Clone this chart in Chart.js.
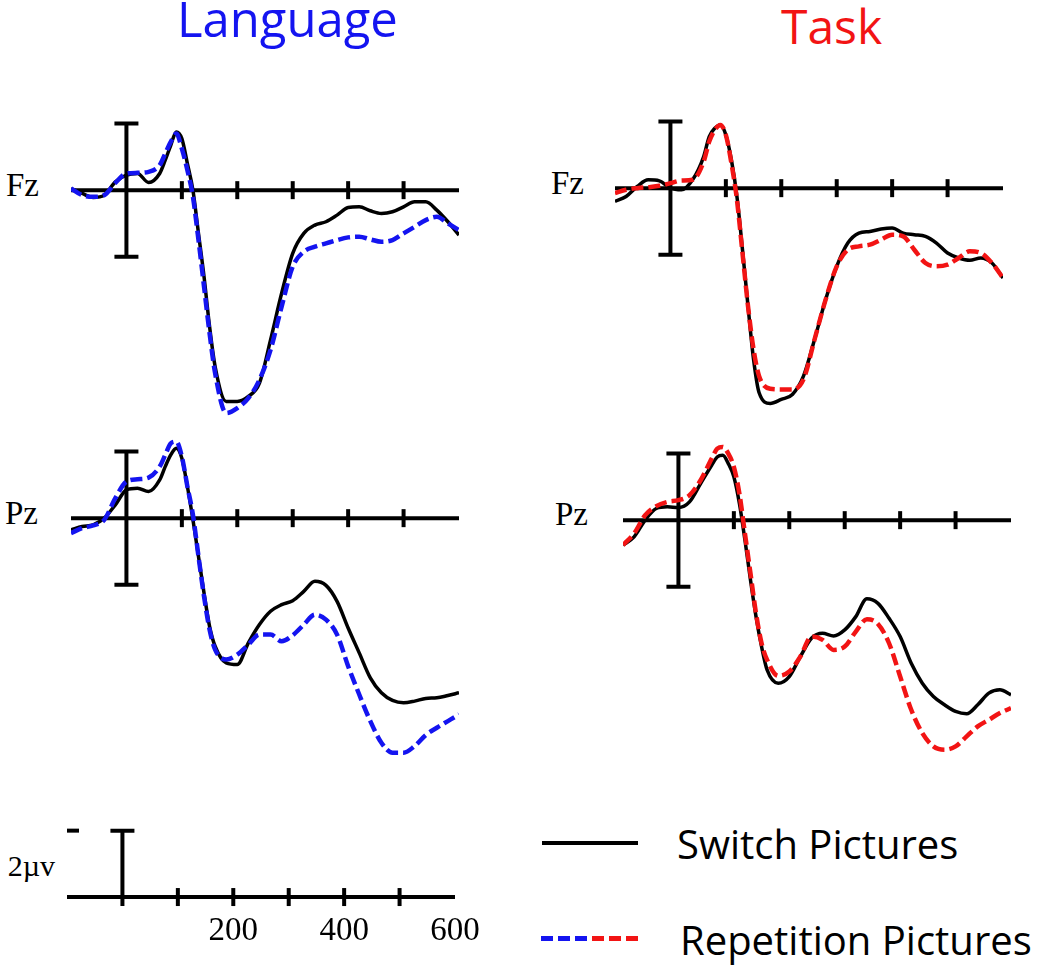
<!DOCTYPE html>
<html>
<head>
<meta charset="utf-8">
<title>Language / Task ERP</title>
<script src="https://cdn.jsdelivr.net/npm/chart.js@4.4.1/dist/chart.umd.min.js"></script>
<style>
  body { margin: 0; background: #fff; }
  #page { position: relative; width: 1050px; height: 967px; overflow: hidden; background: #fff; }
  canvas { position: absolute; }
  .txt { position: absolute; white-space: nowrap; line-height: 1; }
  .leg { position: absolute; }
</style>
</head>
<body>
<div id="page"></div>
<script>
// sample times in ms (denser around the early peak / steep drop)
const timesMs = [-100, -80, -60, -40, -20, 0, 20, 40, 60, 70, 80, 90, 100, 110, 120, 130, 140, 150, 160,
  180, 200, 220, 240, 260, 280, 300, 320, 340, 360, 380, 400, 420, 440, 460, 480, 500, 520, 540, 560, 580, 600];
const tickTimes = [100, 200, 300, 400, 500];
const scaleLabels = [200, 400, 600];

// amplitudes in microvolts
const fzLanguageSwitch = [0.05, -0.1, -0.22, -0.15, 0.25, 0.45, 0.5, 0.23, 0.5, 0.9, 1.35, 1.75, 1.55, 0.8, 0.0, -1.3, -2.6, -4.1, -5.3,
  -6.35, -6.35, -6.2, -5.8, -4.5, -3.1, -1.9, -1.3, -1.05, -0.95, -0.75, -0.52, -0.5, -0.62, -0.7, -0.65, -0.5, -0.35, -0.35, -0.6, -0.95, -1.35];
const fzLanguageRepeat = [0.05, -0.15, -0.2, -0.15, 0.22, 0.5, 0.52, 0.55, 0.75, 1.1, 1.45, 1.7, 1.25, 0.6, -0.2, -1.5, -2.9, -4.3, -5.5,
  -6.7, -6.55, -6.25, -5.7, -4.8, -3.5, -2.3, -1.85, -1.7, -1.6, -1.5, -1.42, -1.4, -1.48, -1.55, -1.5, -1.3, -1.1, -0.9, -0.8, -1.0, -1.2];

const fzTaskSwitch = [-0.4, -0.25, 0.05, 0.25, 0.22, 0.0, -0.05, 0.25, 0.95, 1.55, 1.8, 1.9, 1.6, 0.85, -0.25, -1.85, -3.55, -5.15, -6.15,
  -6.47, -6.35, -6.2, -5.65, -4.55, -3.35, -2.35, -1.65, -1.35, -1.3, -1.23, -1.2, -1.35, -1.4, -1.45, -1.65, -1.95, -2.1, -2.17, -2.1, -2.25, -2.7];
const fzTaskRepeat = [-0.15, -0.05, 0.0, 0.03, 0.07, 0.15, 0.23, 0.25, 0.8, 1.4, 1.75, 1.9, 1.6, 0.75, -0.35, -1.95, -3.55, -4.85, -5.65,
  -6.03, -6.05, -6.05, -5.75, -4.55, -3.35, -2.35, -1.85, -1.75, -1.7, -1.55, -1.4, -1.45, -1.85, -2.25, -2.35, -2.3, -2.1, -1.9, -1.95, -2.25, -2.7];

const pzLanguageSwitch = [-0.35, -0.25, -0.2, 0.0, 0.4, 0.85, 0.9, 0.8, 1.15, 1.55, 1.9, 2.1, 1.8, 0.95, -0.05, -1.15, -2.25, -3.25, -3.85,
  -4.35, -4.4, -3.75, -3.2, -2.8, -2.6, -2.48, -2.2, -1.9, -2.02, -2.5, -3.3, -4.05, -4.8, -5.25, -5.48, -5.55, -5.5, -5.42, -5.4, -5.33, -5.25];
const pzLanguageRepeat = [-0.45, -0.3, -0.22, -0.05, 0.6, 1.1, 1.17, 1.22, 1.55, 1.9, 2.25, 2.3, 1.85, 0.95, 0.1, -1.15, -2.35, -3.35, -3.95,
  -4.25, -4.1, -3.8, -3.5, -3.5, -3.7, -3.52, -3.2, -2.9, -3.05, -3.5, -4.45, -5.3, -6.1, -6.75, -7.05, -7.05, -6.85, -6.52, -6.3, -6.1, -5.9];

const pzTaskSwitch = [-0.75, -0.5, 0.0, 0.35, 0.4, 0.38, 0.55, 1.1, 1.65, 1.9, 1.95, 1.7, 1.3, 0.5, -0.6, -1.8, -2.9, -3.8, -4.5,
  -4.9, -4.7, -4.1, -3.55, -3.4, -3.48, -3.3, -2.9, -2.36, -2.5, -2.95, -3.5, -4.3, -4.9, -5.3, -5.55, -5.75, -5.82, -5.55, -5.2, -5.1, -5.25];
const pzTaskRepeat = [-0.75, -0.4, 0.15, 0.42, 0.55, 0.6, 0.75, 1.2, 1.85, 2.15, 2.2, 2.0, 1.6, 0.8, -0.4, -1.6, -2.8, -3.7, -4.2,
  -4.68, -4.55, -4.1, -3.5, -3.6, -3.9, -3.8, -3.35, -2.98, -3.12, -3.7, -4.7, -5.7, -6.4, -6.8, -6.9, -6.8, -6.5, -6.2, -6.0, -5.8, -5.65];

const BLUE = '#1414f0';
const RED = '#f21414';
const PX_PER_MS = 0.5545;
const PX_PER_UV = 33.3;

const page = document.getElementById('page');

function pts(values) {
  return timesMs.map((t, i) => ({ x: t, y: values[i] }));
}

// axis line, crossing ticks, calibration bar
const erpAxes = {
  id: 'erpAxes',
  beforeDatasetsDraw(chart, args, opts) {
    const { ctx, scales: { x, y } } = chart;
    const y0 = y.getPixelForValue(0);
    const half = 9;
    ctx.save();
    ctx.strokeStyle = '#000';
    ctx.fillStyle = '#000';
    ctx.lineWidth = 4;
    ctx.lineCap = 'butt';

    ctx.beginPath();
    ctx.moveTo(x.getPixelForValue(-100), y0);
    ctx.lineTo(x.getPixelForValue(600), y0);
    ctx.stroke();

    tickTimes.forEach(t => {
      const px = x.getPixelForValue(t);
      ctx.beginPath();
      ctx.moveTo(px, y0 - half);
      ctx.lineTo(px, y0 + half);
      ctx.stroke();
    });

    const bx = x.getPixelForValue(0);
    const top = y.getPixelForValue(opts.barTop);
    const bottom = opts.barBottom !== null ? y.getPixelForValue(opts.barBottom) : y0 + half;
    ctx.beginPath();
    ctx.moveTo(bx, top);
    ctx.lineTo(bx, bottom);
    ctx.moveTo(bx - 12, top);
    ctx.lineTo(bx + 12, top);
    if (opts.barBottom !== null) {
      ctx.moveTo(bx - 12, bottom);
      ctx.lineTo(bx + 12, bottom);
    }
    ctx.stroke();

    if (opts.calibration) {
      const dx = x.getPixelForValue(-100);
      ctx.beginPath();
      ctx.moveTo(dx, top);
      ctx.lineTo(dx + 12, top);
      ctx.stroke();

      ctx.font = '33px "Liberation Serif", "Times New Roman", serif';
      ctx.textAlign = 'center';
      ctx.textBaseline = 'alphabetic';
      scaleLabels.forEach(v => {
        ctx.fillText(String(v), x.getPixelForValue(v), y0 + 43);
      });
    }
    ctx.restore();
  }
};

function makePanel(zeroX, axisY, yMin, yMax, pad, datasets, axesOpts) {
  const plotW = Math.round(700 * PX_PER_MS);
  const plotH = Math.round((yMax - yMin) * PX_PER_UV);
  const canvas = document.createElement('canvas');
  canvas.width = plotW + pad.left + pad.right;
  canvas.height = plotH + pad.top + pad.bottom;
  canvas.style.left = (zeroX - 100 * PX_PER_MS - pad.left) + 'px';
  canvas.style.top = (axisY - yMax * PX_PER_UV - pad.top) + 'px';
  page.appendChild(canvas);

  return new Chart(canvas.getContext('2d'), {
    type: 'line',
    data: { datasets: datasets },
    options: {
      responsive: false,
      animation: false,
      events: [],
      layout: { padding: pad },
      scales: {
        x: { type: 'linear', min: -100, max: 600, display: false },
        y: { type: 'linear', min: yMin, max: yMax, display: false }
      },
      plugins: {
        legend: { display: false },
        tooltip: { enabled: false },
        erpAxes: axesOpts
      }
    },
    plugins: [erpAxes]
  });
}

function erpSets(switchVals, repeatVals, repColor) {
  return [
    {
      label: 'Repetition Pictures',
      data: pts(repeatVals),
      borderColor: repColor,
      borderWidth: 4.5,
      borderDash: [12, 5],
      pointRadius: 0,
      cubicInterpolationMode: 'monotone',
      fill: false
    },
    {
      label: 'Switch Pictures',
      data: pts(switchVals),
      borderColor: '#000',
      borderWidth: 3.5,
      pointRadius: 0,
      cubicInterpolationMode: 'monotone',
      fill: false
    }
  ];
}

const panelPad = { left: 8, right: 8, top: 8, bottom: 8 };
const errBar = { barTop: 2, barBottom: -2, calibration: false };

makePanel(126, 190, -7.6, 2.8, panelPad, erpSets(fzLanguageSwitch, fzLanguageRepeat, BLUE), errBar);
makePanel(670.7, 188.3, -7.6, 2.8, panelPad, erpSets(fzTaskSwitch, fzTaskRepeat, RED), errBar);
makePanel(126, 518.3, -7.6, 2.8, panelPad, erpSets(pzLanguageSwitch, pzLanguageRepeat, BLUE), errBar);
makePanel(678.6, 520, -7.6, 2.8, panelPad, erpSets(pzTaskSwitch, pzTaskRepeat, RED), errBar);

// calibration axis at the bottom left
makePanel(122.3, 897.7, -0.3, 2.2, { left: 8, right: 34, top: 8, bottom: 52 }, [],
  { barTop: 2, barBottom: null, calibration: true });

// text
const SANS = '"Open Sans", "Noto Sans", sans-serif';
const SERIF = '"Liberation Serif", "Times New Roman", serif';

function addText(str, x, baseline, size, family, color, align) {
  const k = family === SANS ? 0.888 : 0.8375;
  const el = document.createElement('div');
  el.className = 'txt';
  el.textContent = str;
  el.style.fontFamily = family;
  el.style.fontSize = size + 'px';
  el.style.color = color;
  el.style.top = (baseline - k * size) + 'px';
  el.style.left = x + 'px';
  if (align === 'right') el.style.transform = 'translateX(-100%)';
  if (align === 'center') el.style.transform = 'translateX(-50%)';
  page.appendChild(el);
}

addText('Language', 177, 37, 49, SANS, BLUE, 'left');
addText('Task', 781, 45, 48, SANS, RED, 'left');

addText('Fz', 39, 197, 33, SERIF, '#000', 'right');
addText('Fz', 551, 195, 33, SERIF, '#000', 'left');
addText('Pz', 38, 525, 33, SERIF, '#000', 'right');
addText('Pz', 555, 526, 33, SERIF, '#000', 'left');
addText('2\u00b5v', 55, 876, 30, SERIF, '#000', 'right');

// legend
function addBar(x, y, w, h, color) {
  const el = document.createElement('div');
  el.className = 'leg';
  el.style.left = x + 'px';
  el.style.top = y + 'px';
  el.style.width = w + 'px';
  el.style.height = h + 'px';
  el.style.background = color;
  page.appendChild(el);
}

addBar(542, 841, 96, 4, '#000');
[BLUE, BLUE, BLUE, RED, RED, RED].forEach((c, i) => addBar(541 + i * 17, 935.5, 12, 5, c));

addText('Switch Pictures', 677, 860, 40, SANS, '#000', 'left');
addText('Repetition Pictures', 680, 956, 40, SANS, '#000', 'left');
</script>
</body>
</html>
